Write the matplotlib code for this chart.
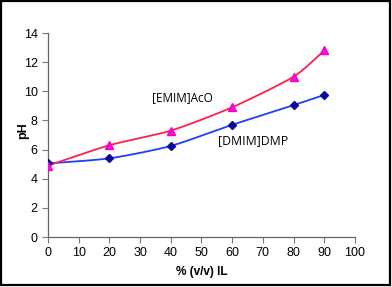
import numpy as np
import matplotlib.pyplot as plt
from matplotlib.patches import Rectangle

# % (v/v) IL and measured pH
il_pct = [0, 20, 40, 60, 80, 90]
ph_emim = [4.9, 6.3, 7.3, 8.9, 11.0, 12.8]
ph_dmim = [5.05, 5.4, 6.25, 7.7, 9.05, 9.75]

x_ticks = [0, 10, 20, 30, 40, 50, 60, 70, 80, 90, 100]
y_ticks = [0, 2, 4, 6, 8, 10, 12, 14]


def smooth(x, y, n=30, k=0.35):
    # cardinal spline through the points (like excel's smoothed line)
    x = np.asarray(x, float)
    y = np.asarray(y, float)
    xs, ys = [], []
    t = np.linspace(0, 1, n)
    h00 = 2 * t**3 - 3 * t**2 + 1
    h10 = t**3 - 2 * t**2 + t
    h01 = -2 * t**3 + 3 * t**2
    h11 = t**3 - t**2
    m = len(x)
    for i in range(m - 1):
        a = max(i - 1, 0)
        b = min(i + 2, m - 1)
        mx0 = k * (x[i + 1] - x[a]) if i > 0 else k * 2 * (x[1] - x[0])
        my0 = k * (y[i + 1] - y[a]) if i > 0 else k * 2 * (y[1] - y[0])
        mx1 = k * (x[b] - x[i]) if i < m - 2 else k * 2 * (x[-1] - x[-2])
        my1 = k * (y[b] - y[i]) if i < m - 2 else k * 2 * (y[-1] - y[-2])
        xs.extend(h00 * x[i] + h10 * mx0 + h01 * x[i + 1] + h11 * mx1)
        ys.extend(h00 * y[i] + h10 * my0 + h01 * y[i + 1] + h11 * my1)
    return xs, ys


plt.rcParams['font.family'] = ['Liberation Sans', 'DejaVu Sans']

fig = plt.figure(figsize=(3.92, 2.87), dpi=100)
ax = fig.add_axes([0.1224, 0.174, 0.783, 0.711])

sx, sy = smooth(il_pct, ph_dmim)
ax.plot(sx, sy, color='#1f3cff', lw=1.3, zorder=2)
ax.plot(il_pct, ph_dmim, ls='none', marker='D', ms=4, color='#0a0a9a', zorder=3)

sx, sy = smooth(il_pct, ph_emim)
ax.plot(sx, sy, color='#ff1f4f', lw=1.3, zorder=2)
ax.plot(il_pct, ph_emim, ls='none', marker='^', ms=5.5, color='#ee10ee',
        markeredgecolor='#ff00aa', zorder=4)

ax.text(34, 9.55, '[EMIM]AcO', fontsize=8.5, family='Open Sans', ha='left', va='center')
ax.text(55.5, 6.65, '[DMIM]DMP', fontsize=8.8, family='Open Sans', ha='left', va='center')

ax.set_xlim(0, 100)
ax.set_ylim(0, 14)
ax.set_xticks(x_ticks)
ax.set_yticks(y_ticks)
ax.tick_params(labelsize=9, color='#777777', length=4, width=0.8)
for s in ['top', 'right']:
    ax.spines[s].set_visible(False)
for s in ['left', 'bottom']:
    ax.spines[s].set_color('#666666')
    ax.spines[s].set_linewidth(0.9)
ax.set_xlabel('% (v/v) IL', fontsize=8.5, fontweight='bold', labelpad=5)
ax.set_ylabel('pH', fontsize=9, fontweight='bold')
ax.yaxis.set_label_coords(-0.06, 0.52)

fig.patches.append(Rectangle((0.002, 0.006), 0.993, 0.99, transform=fig.transFigure,
                             fill=False, edgecolor='black', lw=1.6))

fig.savefig('out.png', dpi=100)
